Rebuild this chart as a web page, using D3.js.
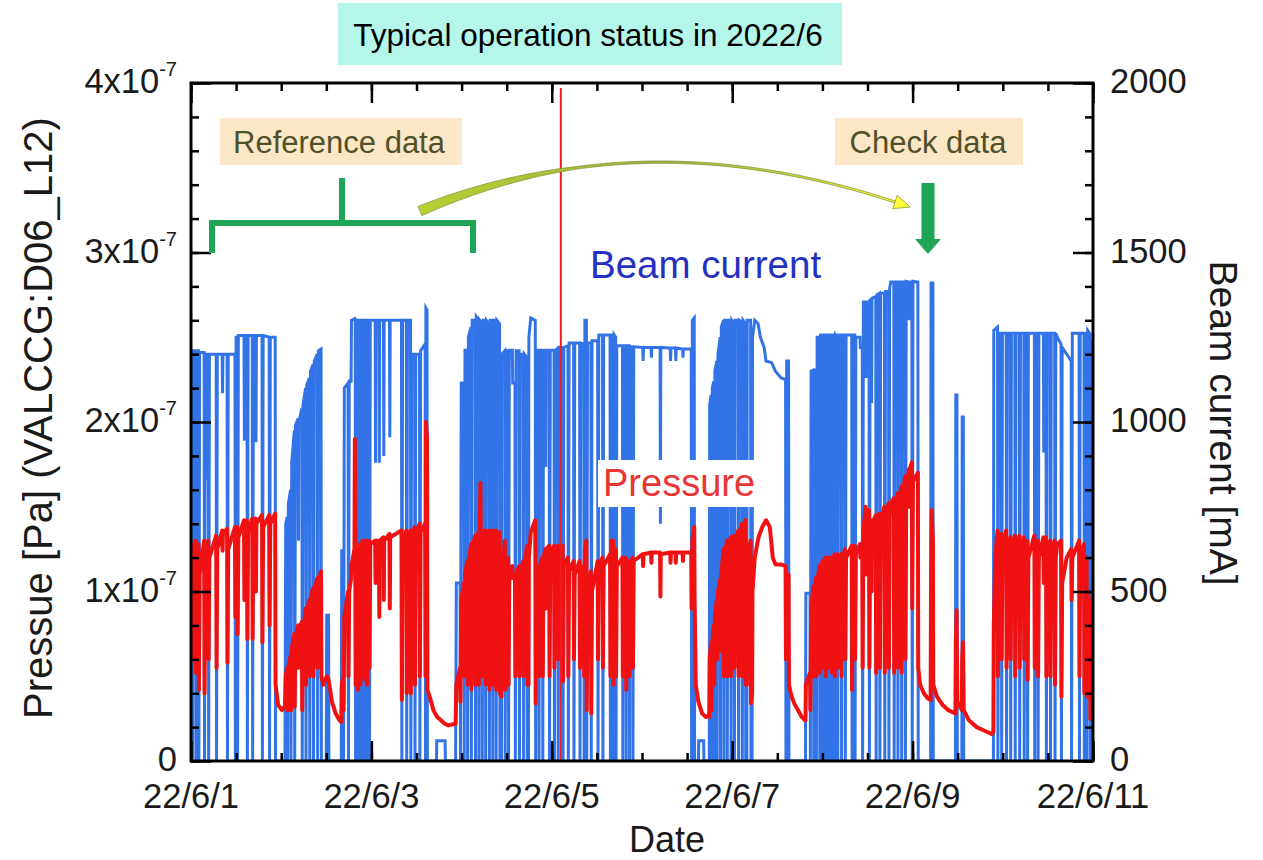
<!DOCTYPE html>
<html><head><meta charset="utf-8">
<script src="https://cdn.jsdelivr.net/npm/d3@7"></script>
<style>body{margin:0;background:#fff}svg{display:block;font-family:"Liberation Sans",Arial,sans-serif}</style>
</head><body><svg id="c" width="1263" height="860"></svg>
<script>
// ---------------- DATA ----------------
const titleText = "Typical operation status in 2022/6";
const xTickDays = [1, 3, 5, 7, 9, 11];
const xTickLabels = ["22/6/1", "22/6/3", "22/6/5", "22/6/7", "22/6/9", "22/6/11"];
const pressureTicks = [0, 1e-7, 2e-7, 3e-7, 4e-7];
const pressureTickMantissa = ["0", "1", "2", "3", "4"];
const currentTicks = [0, 500, 1000, 1500, 2000];
const markerHours = [98.4];            // red vertical marker (hours from 22/6/1 00:00)

// Beam current [mA] vs hours since 2022/6/1 00:00
const beamCurrent = [
[0,1200],[0.3,1200],[0.4,0],[0.5,1210],[1.2,1210],[1.3,0],[1.4,1210],[2.0,1210],[2.1,0],[2.3,1205],[3.5,1205],[3.6,0],[3.8,1200],[4.0,1200],[4.1,830],[4.2,1200],[4.6,1200],[4.7,0],[4.9,1200],[6.7,1200],[6.8,0],[7.0,1200],[8.3,1200],[8.4,1085],[8.5,1200],[9.6,1200],[9.7,0],[9.9,1200],[11.7,1200],[11.8,0],[12.0,1250],[12.3,1250],[12.4,0],[12.6,1255],[14.1,1255],[14.2,945],[14.3,1255],[14.9,1255],[15.0,0],[15.2,1255],[16.3,1255],[16.4,0],[16.6,1255],[17.2,1255],[17.3,940],[17.4,1255],[18.9,1255],[19.0,0],[19.2,1255],[20.8,1250],[20.9,0],[21.1,1250],[22.4,1250],[22.5,0],[24.9,0],
[25.0,0],[25.2,700],[25.6,720],[25.7,0],[25.9,760],[26.5,800],[26.6,0],[26.8,880],[27.5,976],[27.6,0],[27.8,990],[28.5,1010],[28.6,650],[28.7,1000],[29.5,1040],[29.6,0],[29.8,1050],[30.5,1100],[30.6,0],[30.8,1110],[31.5,1130],[31.6,0],[31.8,1150],[32.5,1170],[32.6,0],[32.8,1180],[33.6,1200],[33.7,0],[33.9,1210],[34.6,1215],[34.7,0],[36.0,0],[36.1,430],[36.6,430],[36.7,0],[39.9,0],
[40.0,0],[40.1,620],[40.5,620],[40.6,0],[40.8,1100],[41.8,1115],[41.9,0],[42.1,1120],[42.6,1120],[42.7,1300],[43.6,1305],[43.7,1300],[43.8,0],[44.0,1300],[44.3,1300],[44.4,0],[44.6,1300],[45.0,1300],[45.1,0],[45.3,1300],[45.6,1300],[45.7,0],[45.9,1300],[46.2,1300],[46.3,0],[46.5,1300],[46.8,1300],[46.9,0],[47.1,1300],[47.4,1300],[47.5,0],[47.7,1300],[49.0,1300],[49.1,880],[49.2,1300],[50.0,1300],[50.1,880],[50.2,1300],[51.2,1300],[51.3,900],[51.4,1300],[52.8,1300],[52.9,955],[53.0,1300],[56.0,1300],[56.1,0],[56.3,1300],[57.3,1300],[57.4,0],[57.6,1300],[58.4,1300],[58.5,0],[58.7,1200],[59.5,1200],[59.6,0],[59.8,1200],[60.8,1200],[60.9,0],[61.1,1210],[62.3,1230],[62.4,0],[62.5,1336],[62.8,1330],[62.9,0],[65.3,0],[65.4,60],[67.6,60],[67.7,0],[70.3,0],
[70.4,0],[70.6,525],[71.6,525],[71.7,0],[71.9,1115],[72.6,1115],[72.7,0],[72.9,1212],[73.5,1212],[73.6,0],[73.8,1250],[74.5,1280],[74.6,0],[74.8,1300],[75.6,1300],[75.7,0],[75.9,1310],[76.5,1300],[76.6,0],[76.8,1300],[77.4,1290],[77.5,0],[77.7,1300],[78.3,1300],[78.4,0],[78.6,1300],[79.3,1290],[79.4,0],[79.6,1300],[80.2,1300],[80.3,0],[80.5,1300],[81.1,1300],[81.2,0],[81.4,1300],[82.1,1290],[82.2,0],[82.6,0],[82.7,1200],[83.5,1210],[83.6,0],[83.8,1210],[84.4,1210],[84.5,0],[84.7,1212],[85.5,1212],[85.6,1115],[86.2,1115],[86.3,0],[86.5,1210],[87.3,1210],[87.4,0],[87.6,1200],[88.4,1200],[88.5,0],[88.7,1200],[89.4,1190],[89.5,0],[89.8,0],[89.9,1250],[90.4,1307],[91.6,1300],[91.7,0],[91.9,1212],[92.5,1212],[92.6,0],[92.8,1212],[93.5,1212],[93.6,0],[93.8,1212],[94.3,1212],[94.4,867],[94.5,1212],[95.3,1212],[95.4,0],[95.6,1212],[96.6,1212],[96.7,0],[96.9,1212],[97.6,1218],[97.7,0],[97.9,1220],[98.9,1220],[99.0,0],[99.2,1220],[100.3,1225],[100.4,0],[100.6,1233],[101.8,1233],[101.9,0],[102.1,1233],[103.4,1233],[103.5,0],[103.7,1233],[104.5,1230],[104.6,0],[104.8,1300],[105.2,1300],[105.3,0],[105.5,1233],[106.4,1233],[106.5,0],[106.7,1240],[108.2,1240],[108.3,0],[108.5,1257],[109.5,1257],[109.6,0],[109.8,1257],[111.5,1257],[111.6,0],[111.8,1257],[112.3,1257],[112.4,0],[112.6,1257],[113.0,1250],[113.1,0],[113.3,1225],[114.8,1225],[114.9,0],[115.1,1225],[115.7,1225],[115.8,0],[116.0,1225],[116.6,1225],[116.7,0],[116.9,1222],[117.5,1222],[117.6,0],[117.8,1222],[120.2,1220],[120.3,1180],[120.4,1220],[122.4,1220],[122.5,1190],[122.6,1220],[124.8,1220],[124.9,700],[125.0,1220],[127.5,1218],[127.6,1180],[127.7,1218],[128.9,1218],[129.0,1180],[129.1,1218],[130.8,1215],[130.9,1190],[131.0,1215],[133.1,1215],[133.2,0],[133.4,1300],[133.9,1307],[134.0,0],[135.0,0],[135.1,60],[136.4,60],[136.5,0],
[137.9,0],[138.0,1050],[138.4,1080],[138.5,0],[138.7,1100],[139.1,1120],[139.2,0],[139.4,1150],[139.9,1180],[140.0,0],[140.2,1200],[140.8,1250],[140.9,0],[141.1,1280],[141.7,1300],[141.8,0],[142.0,1300],[142.6,1300],[142.7,0],[142.9,1300],[143.6,1300],[143.7,0],[143.9,1300],[144.5,1290],[144.6,0],[144.8,1300],[145.6,1300],[145.7,0],[145.9,1300],[146.6,1295],[146.7,0],[146.9,1300],[147.5,1290],[147.6,0],[147.9,0],[148.0,1300],[148.9,1300],[149.0,0],[149.3,0],[149.4,1250],[150.0,1300],[150.9,1290],[151.5,1250],[152.5,1220],[153.0,1180],[154.5,1175],[155.5,1150],[157.0,1130],[158.2,1125],[158.3,0],[158.5,1180],[159.0,1180],[159.1,0],[163.5,0],
[163.6,495],[164.7,495],[164.8,0],[165.0,1150],[165.6,1153],[165.7,0],[165.9,1153],[166.3,1153],[166.4,0],[166.6,1250],[167.2,1250],[167.3,0],[167.5,1257],[168.0,1257],[168.1,0],[168.3,1257],[168.8,1257],[168.9,0],[169.1,1257],[169.6,1257],[169.7,0],[169.9,1257],[170.4,1257],[170.5,0],[170.7,1257],[171.2,1257],[171.3,0],[171.5,1257],[172.0,1250],[172.1,0],[172.3,1257],[173.0,1257],[173.1,0],[173.3,1257],[174.0,1257],[174.1,0],[174.3,1257],[175.8,1257],[175.9,0],[176.1,1257],[176.6,1257],[176.7,0],[176.9,1250],[178.0,1250],[178.1,1220],[178.6,1220],[178.7,0],[178.9,1354],[179.5,1354],[179.6,1130],[179.7,1354],[180.4,1354],[180.5,0],[180.7,1360],[181.0,1360],[181.1,1056],[181.2,1365],[182.2,1370],[182.3,0],[182.5,1375],[183.2,1380],[183.3,0],[183.5,1380],[184.5,1380],[184.6,0],[184.8,1385],[185.6,1385],[185.7,0],[185.9,1395],[186.2,1413],[187.0,1413],[187.1,0],[187.3,1413],[188.0,1413],[188.1,0],[188.3,1413],[189.0,1413],[189.1,0],[189.3,1413],[190.0,1413],[190.1,0],[190.3,1415],[191.0,1413],[191.1,1300],[191.2,1413],[191.8,1413],[191.9,0],[192.1,1415],[193.4,1413],[193.5,0],[196.8,0],[196.9,1410],[197.4,1410],[197.5,0],[203.4,0],[203.5,1080],[203.8,1080],[203.9,0],[205.1,0],[205.2,1015],[205.5,1015],[205.6,0],[213.5,0],
[213.6,1270],[214.6,1280],[214.7,0],[214.9,1262],[215.6,1262],[215.7,0],[215.9,1262],[216.9,1262],[217.0,0],[217.2,1262],[218.0,1262],[218.1,0],[218.3,1262],[219.2,1262],[219.3,0],[219.5,1262],[220.4,1262],[220.5,0],[220.7,1262],[221.6,1262],[221.7,0],[221.9,1262],[222.5,1262],[222.6,0],[222.8,1262],[224.4,1262],[224.5,0],[224.7,1262],[225.3,1262],[225.4,0],[225.6,1262],[226.8,1262],[226.9,910],[227.0,1262],[227.5,1262],[227.6,0],[227.8,1262],[228.6,1262],[228.7,0],[228.9,1262],[229.8,1262],[229.9,0],[230.1,1262],[230.5,1250],[231.5,1230],[231.6,0],[231.8,1220],[233.0,1200],[234.2,1180],[234.3,0],[234.5,1262],[236.3,1262],[236.4,0],[236.6,1262],[237.6,1262],[237.7,0],[237.9,1262],[238.3,1262],[238.4,0],[238.6,1270],[239.2,1260],[239.3,0],[239.5,1240],[240.3,850]
];

// Pressure [x1e-7 Pa] vs hours since 2022/6/1 00:00
const pressureE7 = [
[0,1.25],[0.3,1.28],[0.4,0.6],[0.5,1.2],[1.2,1.3],[1.3,0.52],[1.4,1.15],[2.0,1.28],[2.1,0.42],[2.3,1.1],[3.5,1.3],[3.6,0.40],[3.8,1.15],[4.0,1.25],[4.1,0.9],[4.2,1.2],[4.6,1.3],[4.7,0.6],[4.9,1.2],[6.7,1.33],[6.8,0.55],[7.0,1.25],[8.3,1.36],[8.4,1.24],[8.5,1.34],[9.6,1.37],[9.7,0.58],[9.9,1.25],[11.7,1.38],[11.8,0.85],[12.0,1.3],[12.3,1.38],[12.4,0.75],[12.6,1.32],[14.1,1.42],[14.2,0.95],[14.3,1.38],[14.9,1.42],[15.0,0.72],[15.2,1.35],[16.3,1.43],[16.4,0.72],[16.6,1.38],[17.2,1.43],[17.3,1.0],[17.4,1.4],[18.9,1.45],[19.0,0.7],[19.2,1.38],[20.8,1.45],[20.9,0.8],[21.1,1.4],[22.4,1.46],[22.5,0.45],[23.2,0.33],[24.2,0.3],[24.8,0.32],
[25.0,0.32],[25.2,0.5],[25.6,0.55],[25.7,0.3],[25.9,0.55],[26.5,0.62],[26.6,0.3],[26.8,0.66],[27.5,0.75],[27.6,0.32],[27.8,0.72],[28.5,0.8],[28.6,0.55],[28.7,0.78],[29.5,0.82],[29.6,0.3],[29.8,0.75],[30.5,0.9],[30.6,0.45],[30.8,0.88],[31.5,0.95],[31.6,0.5],[31.8,0.95],[32.5,1.02],[32.6,0.5],[32.8,1.0],[33.6,1.08],[33.7,0.55],[33.9,1.05],[34.6,1.12],[34.7,0.5],[35.2,0.45],[36.1,0.5],[36.6,0.48],[37.5,0.35],[38.5,0.28],[39.5,0.24],[40.0,0.23],
[40.1,0.45],[40.5,0.5],[40.6,0.3],[40.8,0.85],[41.8,1.0],[41.9,0.5],[42.1,1.0],[42.6,1.08],[42.7,1.15],[43.5,1.25],[43.6,1.9],[43.7,1.3],[43.8,0.45],[44.0,1.2],[44.3,1.25],[44.4,0.42],[44.6,1.2],[45.0,1.28],[45.1,0.45],[45.3,1.22],[45.6,1.3],[45.7,0.5],[45.9,1.25],[46.2,1.3],[46.3,0.48],[46.5,1.25],[46.8,1.3],[46.9,0.45],[47.1,1.25],[47.4,1.3],[47.5,0.55],[47.7,1.28],[49.0,1.3],[49.1,1.05],[49.2,1.3],[50.0,1.3],[50.1,0.85],[50.2,1.3],[51.2,1.32],[51.3,0.95],[51.4,1.3],[52.8,1.34],[52.9,0.9],[53.0,1.32],[56.0,1.36],[56.1,0.36],[56.3,1.25],[57.3,1.36],[57.4,0.4],[57.6,1.3],[58.4,1.36],[58.5,0.4],[58.7,1.3],[59.5,1.38],[59.6,0.45],[59.8,1.32],[60.8,1.4],[60.9,0.5],[61.1,1.35],[62.3,1.4],[62.4,0.5],[62.5,2.0],[62.8,1.9],[62.9,0.42],[63.5,0.38],[64.5,0.3],[65.5,0.26],[66.5,0.24],[67.5,0.22],[68.5,0.21],[70.3,0.22],
[70.4,0.22],[70.6,0.45],[71.6,0.55],[71.7,0.35],[71.9,0.95],[72.6,1.05],[72.7,0.5],[72.9,1.1],[73.5,1.18],[73.6,0.45],[73.8,1.15],[74.5,1.28],[74.6,0.42],[74.8,1.25],[75.6,1.33],[75.7,0.45],[75.9,1.28],[76.5,1.35],[76.6,0.45],[76.8,1.3],[77.0,1.64],[77.1,1.35],[77.4,1.36],[77.5,0.5],[77.7,1.3],[78.3,1.36],[78.4,0.45],[78.6,1.3],[79.3,1.36],[79.4,0.42],[79.6,1.3],[80.2,1.36],[80.3,0.45],[80.5,1.3],[81.1,1.36],[81.2,0.42],[81.4,1.3],[82.1,1.35],[82.2,0.4],[82.6,0.38],[82.7,1.1],[83.5,1.3],[83.6,0.42],[83.8,1.15],[84.4,1.2],[84.5,0.45],[84.7,1.1],[85.5,1.15],[85.6,1.08],[86.2,1.1],[86.3,0.5],[86.5,1.1],[87.3,1.15],[87.4,0.5],[87.6,1.1],[88.4,1.18],[88.5,0.5],[88.7,1.15],[89.4,1.27],[89.5,0.45],[89.8,0.45],[89.9,1.2],[90.4,1.35],[91.6,1.42],[91.7,0.34],[91.9,1.05],[92.5,1.15],[92.6,0.5],[92.8,1.15],[93.5,1.2],[93.6,0.5],[93.8,1.2],[94.3,1.25],[94.4,0.9],[94.5,1.25],[95.3,1.27],[95.4,0.5],[95.6,1.22],[96.6,1.27],[96.7,0.55],[96.9,1.22],[97.6,1.27],[97.7,0.6],[97.9,1.2],[98.9,1.27],[99.0,0.47],[99.2,1.15],[100.3,1.2],[100.4,0.5],[100.6,1.12],[101.8,1.18],[101.9,0.6],[102.1,1.1],[103.4,1.18],[103.5,0.55],[103.7,1.1],[104.5,1.15],[104.6,0.5],[104.8,1.25],[105.2,1.3],[105.3,0.3],[105.5,1.0],[106.4,1.12],[106.5,0.28],[106.7,1.0],[108.2,1.18],[108.3,0.6],[108.5,1.15],[109.5,1.2],[109.6,0.55],[109.8,1.15],[111.5,1.22],[111.6,0.5],[111.8,1.3],[112.3,1.3],[112.4,0.45],[112.6,1.2],[113.0,1.25],[113.1,0.5],[113.3,1.15],[114.8,1.2],[114.9,0.5],[115.1,1.15],[115.7,1.2],[115.8,0.42],[116.0,1.12],[116.6,1.18],[116.7,0.5],[116.9,1.15],[117.5,1.2],[117.6,0.55],[117.8,1.18],[120.2,1.22],[120.3,1.15],[120.4,1.22],[122.4,1.23],[122.5,1.17],[122.6,1.23],[124.8,1.23],[124.9,0.97],[125.0,1.22],[127.5,1.23],[127.6,1.17],[127.7,1.23],[128.9,1.23],[129.0,1.17],[129.1,1.23],[130.8,1.23],[130.9,1.18],[131.0,1.23],[133.1,1.23],[133.2,0.9],[133.4,1.3],[133.9,1.38],[134.0,0.95],[134.3,0.45],[135.0,0.35],[136.0,0.28],[137.0,0.26],[137.8,0.27],
[137.9,0.26],[138.0,0.6],[138.4,0.7],[138.5,0.3],[138.7,0.7],[139.1,0.8],[139.2,0.45],[139.4,0.85],[139.9,0.95],[140.0,0.6],[140.2,1.0],[140.8,1.07],[140.9,0.65],[141.1,1.1],[141.7,1.25],[141.8,0.5],[142.0,1.2],[142.6,1.3],[142.7,0.5],[142.9,1.25],[143.6,1.32],[143.7,0.5],[143.9,1.28],[144.5,1.33],[144.6,0.55],[144.8,1.3],[145.6,1.36],[145.7,0.5],[145.9,1.3],[146.6,1.4],[146.7,0.5],[146.9,1.35],[147.5,1.42],[147.6,0.45],[147.9,0.45],[148.0,1.2],[148.9,1.3],[149.0,0.34],[149.3,0.4],[149.4,1.0],[150.0,1.2],[151.0,1.32],[152.0,1.38],[153.0,1.42],[154.0,1.38],[154.8,1.2],[155.5,1.16],[157.0,1.16],[158.2,1.15],[158.3,0.6],[158.5,1.05],[159.0,1.1],[159.1,0.45],[159.8,0.38],[160.5,0.34],[161.5,0.3],[162.5,0.26],[163.4,0.24],
[163.5,0.24],[163.6,0.45],[164.7,0.52],[164.8,0.3],[165.0,0.9],[165.6,1.03],[165.7,0.5],[165.9,1.0],[166.3,1.08],[166.4,0.5],[166.6,1.05],[167.2,1.15],[167.3,0.52],[167.5,1.1],[168.0,1.18],[168.1,0.55],[168.3,1.12],[168.8,1.2],[168.9,0.5],[169.1,1.12],[169.6,1.2],[169.7,0.55],[169.9,1.15],[170.4,1.2],[170.5,0.52],[170.7,1.15],[171.2,1.22],[171.3,0.5],[171.5,1.15],[172.0,1.22],[172.1,0.55],[172.3,1.18],[173.0,1.22],[173.1,0.5],[173.3,1.18],[174.0,1.25],[174.1,0.6],[174.3,1.2],[175.8,1.27],[175.9,0.42],[176.1,1.2],[176.6,1.27],[176.7,0.6],[176.9,1.22],[178.0,1.28],[178.1,1.2],[178.6,1.27],[178.7,0.55],[178.9,1.35],[179.5,1.5],[179.6,1.1],[179.7,1.45],[180.4,1.48],[180.5,0.55],[180.7,1.35],[181.0,1.42],[181.1,1.0],[181.2,1.4],[182.2,1.45],[182.3,0.52],[182.5,1.38],[183.2,1.46],[183.3,0.55],[183.5,1.4],[184.5,1.5],[184.6,0.52],[184.8,1.42],[185.6,1.52],[185.7,0.55],[185.9,1.45],[186.2,1.52],[187.0,1.55],[187.1,0.52],[187.3,1.45],[188.0,1.58],[188.1,0.55],[188.3,1.5],[189.0,1.62],[189.1,0.52],[189.3,1.55],[190.0,1.68],[190.1,0.6],[190.3,1.6],[191.0,1.72],[191.1,1.5],[191.2,1.72],[191.8,1.76],[191.9,0.9],[192.1,1.65],[193.4,1.7],[193.5,0.55],[194.0,0.45],[195.0,0.4],[196.0,0.37],[196.8,0.36],[196.9,1.0],[197.1,1.48],[197.4,1.3],[197.5,0.45],[198.5,0.38],[200.0,0.33],[201.5,0.3],[203.4,0.28],[203.5,0.7],[203.7,0.89],[203.9,0.35],[205.1,0.3],[205.2,0.6],[205.4,0.7],[205.6,0.3],[207.0,0.24],[209.0,0.2],[211.0,0.18],[213.0,0.16],
[213.5,0.17],[213.6,0.8],[214.0,1.2],[214.6,1.36],[214.7,0.5],[214.9,1.2],[215.6,1.34],[215.7,0.6],[215.9,1.25],[216.9,1.36],[217.0,0.55],[217.2,1.2],[218.0,1.32],[218.1,0.6],[218.3,1.22],[219.2,1.33],[219.3,0.5],[219.5,1.22],[220.4,1.33],[220.5,0.55],[220.7,1.2],[221.6,1.32],[221.7,0.6],[221.9,1.22],[222.5,1.3],[222.6,0.48],[222.8,1.2],[224.4,1.33],[224.5,0.55],[224.7,1.22],[225.3,1.3],[225.4,0.5],[225.6,1.2],[226.8,1.32],[226.9,1.05],[227.0,1.3],[227.5,1.32],[227.6,0.5],[227.8,1.2],[228.6,1.3],[228.7,0.5],[228.9,1.22],[229.8,1.3],[229.9,0.45],[230.1,1.2],[230.5,1.28],[231.5,1.3],[231.6,0.38],[231.8,1.05],[233.0,1.2],[234.2,1.25],[234.3,0.95],[234.5,1.2],[236.3,1.3],[236.4,0.5],[236.6,1.2],[237.6,1.28],[237.7,0.4],[237.9,1.1],[238.3,1.2],[238.4,0.38],[238.6,1.0],[239.2,0.9],[239.3,0.25],[239.5,0.6],[240.3,0.85]
];

// ---------------- CHART ----------------
const svg = d3.select("#c");
const L = 191, R = 1093, T = 83, B = 761;
const t0 = Date.UTC(2022, 5, 1);
const hourToDate = h => new Date(t0 + h * 3600e3);
const x = d3.scaleUtc().domain([new Date(t0), new Date(Date.UTC(2022, 5, 11))]).range([L, R]);
const yP = d3.scaleLinear().domain([0, 4e-7]).range([B, T]);
const yI = d3.scaleLinear().domain([0, 2000]).range([B, T]);

const BLUE = "#3274e8", RED = "#f01212";

svg.append("rect").attr("width", 1263).attr("height", 860).attr("fill", "#fff");

svg.append("defs").append("clipPath").attr("id", "plotClip")
  .append("rect").attr("x", L).attr("y", T).attr("width", R - L).attr("height", B - T);

// data lines
const lineI = d3.line().x(d => x(hourToDate(d[0]))).y(d => yI(d[1]));
const lineP = d3.line().x(d => x(hourToDate(d[0]))).y(d => yP(d[1] * 1e-7));
const plot = svg.append("g").attr("clip-path", "url(#plotClip)");
plot.append("path").datum(beamCurrent).attr("d", lineI)
  .attr("fill", "none").attr("stroke", BLUE).attr("stroke-width", 3).attr("stroke-linejoin", "miter");
plot.append("path").datum(pressureE7).attr("d", lineP)
  .attr("fill", "none").attr("stroke", RED).attr("stroke-width", 4).attr("stroke-linejoin", "round");

// marker line
plot.selectAll("line.marker").data(markerHours).join("line")
  .attr("x1", d => x(hourToDate(d))).attr("x2", d => x(hourToDate(d)))
  .attr("y1", T + 5).attr("y2", B).attr("stroke", "#ee1c1c").attr("stroke-width", 2);

// axes ticks (inward)
const dayMs = 24 * 3600e3;
const xMinor = d3.range(0, 21).map(i => new Date(t0 + i * dayMs / 2));
const xMajor = xTickDays.map(d => new Date(Date.UTC(2022, 5, d)));
const pMinor = d3.range(0, 21).map(i => i * 0.2e-7);
const iMinor = d3.range(0, 21).map(i => i * 100);

function styleAxis(g) {
  g.select(".domain").remove();
  g.selectAll(".tick line").attr("stroke", "#000").attr("stroke-width", 2.5);
  g.selectAll(".tick text").remove();
}
svg.append("g").attr("transform", `translate(0,${B})`).call(d3.axisBottom(x).tickValues(xMinor).tickSize(-8)).call(styleAxis);
svg.append("g").attr("transform", `translate(0,${B})`).call(d3.axisBottom(x).tickValues(xMajor).tickSize(-20)).call(styleAxis);
svg.append("g").attr("transform", `translate(0,${T})`).call(d3.axisTop(x).tickValues(xMinor).tickSize(-8)).call(styleAxis);
svg.append("g").attr("transform", `translate(0,${T})`).call(d3.axisTop(x).tickValues(xMajor).tickSize(-20)).call(styleAxis);
svg.append("g").attr("transform", `translate(${L},0)`).call(d3.axisLeft(yP).tickValues(pMinor).tickSize(-8)).call(styleAxis);
svg.append("g").attr("transform", `translate(${L},0)`).call(d3.axisLeft(yP).tickValues(pressureTicks).tickSize(-20)).call(styleAxis);
svg.append("g").attr("transform", `translate(${R},0)`).call(d3.axisRight(yI).tickValues(iMinor).tickSize(-8)).call(styleAxis);
svg.append("g").attr("transform", `translate(${R},0)`).call(d3.axisRight(yI).tickValues(currentTicks).tickSize(-20)).call(styleAxis);

// frame
svg.append("rect").attr("x", L).attr("y", T).attr("width", R - L).attr("height", B - T)
  .attr("fill", "none").attr("stroke", "#000").attr("stroke-width", 3);

// tick labels
const lab = svg.append("g").attr("fill", "#1a1a1a").attr("font-size", 34.5);
lab.selectAll("text.xl").data(xMajor).join("text")
  .attr("x", d => x(d)).attr("y", 808).attr("text-anchor", "middle")
  .text((d, i) => xTickLabels[i]);
pressureTicks.forEach((v, i) => {
  const t = lab.append("text").attr("x", 177).attr("y", yP(v) + 10).attr("text-anchor", "end");
  if (v === 0) t.text(pressureTickMantissa[i]);
  else {
    t.append("tspan").text(pressureTickMantissa[i] + "x10");
    t.append("tspan").attr("dy", -17).attr("font-size", 20).text("-7");
  }
});
lab.selectAll("text.yr").data(currentTicks).join("text")
  .attr("x", 1110).attr("y", d => yI(d) + 10).attr("text-anchor", "start").text(d => d);

// axis titles
svg.append("text").attr("transform", "translate(52,418) rotate(-90)").attr("text-anchor", "middle")
  .attr("font-size", 40).attr("fill", "#1a1a1a").text("Pressue [Pa] (VALCCG:D06_L12)");
svg.append("text").attr("transform", "translate(1210,423) rotate(90)").attr("text-anchor", "middle")
  .attr("font-size", 39).attr("fill", "#1a1a1a").text("Beam current [mA]");
svg.append("text").attr("x", 667).attr("y", 852).attr("text-anchor", "middle")
  .attr("font-size", 36).attr("fill", "#1a1a1a").text("Date");

// title box
svg.append("rect").attr("x", 338).attr("y", 3).attr("width", 504).attr("height", 62).attr("fill", "#b4f7ea");
svg.append("text").attr("x", 588).attr("y", 46).attr("text-anchor", "middle")
  .attr("font-size", 31.5).attr("fill", "#000").text(titleText);

// series labels
svg.append("text").attr("x", 590).attr("y", 278).attr("font-size", 38.5).attr("fill", "#2430c0").text("Beam current");
svg.append("rect").attr("x", 598).attr("y", 460).attr("width", 162).attr("height", 47).attr("fill", "#fff");
svg.append("text").attr("x", 603).attr("y", 496).attr("font-size", 38).attr("fill", "#e83535").text("Pressure");

// annotation boxes
svg.append("rect").attr("x", 220).attr("y", 118).attr("width", 242).attr("height", 47).attr("fill", "#fce7c6");
svg.append("text").attr("x", 339).attr("y", 153).attr("text-anchor", "middle").attr("font-size", 31).attr("fill", "#50502a").text("Reference data");
svg.append("rect").attr("x", 835).attr("y", 118).attr("width", 188).attr("height", 47).attr("fill", "#fce7c6");
svg.append("text").attr("x", 928).attr("y", 153).attr("text-anchor", "middle").attr("font-size", 31).attr("fill", "#50502a").text("Check data");

// green bracket
const GREEN = "#1fa556";
svg.append("path").attr("d", "M212,253 L212,223 L473,223 L473,253 M342,223 L342,178")
  .attr("fill", "none").attr("stroke", GREEN).attr("stroke-width", 6);

// green down arrow
svg.append("path").attr("d", "M921.5,183 L934.5,183 L934.5,239 L941,239 L928,254 L915,239 L921.5,239 Z").attr("fill", GREEN);

// curved tapered arrow
(function () {
  const P0 = [420, 211], P1 = [640, 118], P2 = [895, 202];
  const bez = t => [(1 - t) * (1 - t) * P0[0] + 2 * (1 - t) * t * P1[0] + t * t * P2[0],
                    (1 - t) * (1 - t) * P0[1] + 2 * (1 - t) * t * P1[1] + t * t * P2[1]];
  const der = t => [2 * (1 - t) * (P1[0] - P0[0]) + 2 * t * (P2[0] - P1[0]),
                    2 * (1 - t) * (P1[1] - P0[1]) + 2 * t * (P2[1] - P1[1])];
  const wid = t => t < 0.35 ? 10 - 7.5 * (t / 0.35) : 2.5 - 0.5 * (t - 0.35) / 0.65;
  const left = [], right = [];
  for (let i = 0; i <= 60; i++) {
    const t = i / 60, p = bez(t), d = der(t), n = Math.hypot(d[0], d[1]);
    const nx = -d[1] / n, ny = d[0] / n, w = wid(t) / 2;
    left.push([p[0] + nx * w, p[1] + ny * w]);
    right.push([p[0] - nx * w, p[1] - ny * w]);
  }
  const poly = left.concat(right.reverse());
  const grad = svg.select("defs").append("linearGradient").attr("id", "cg")
    .attr("gradientUnits", "userSpaceOnUse").attr("x1", 420).attr("y1", 0).attr("x2", 910).attr("y2", 0);
  grad.append("stop").attr("offset", 0).attr("stop-color", "#b8cf32");
  grad.append("stop").attr("offset", 0.5).attr("stop-color", "#9fb244");
  grad.append("stop").attr("offset", 0.85).attr("stop-color", "#d8e03a");
  grad.append("stop").attr("offset", 1).attr("stop-color", "#ffff30");
  svg.append("path").attr("d", "M" + poly.map(p => p.join(",")).join("L") + "Z")
    .attr("fill", "url(#cg)").attr("stroke", "#7c8f34").attr("stroke-width", 0.7);
  const d = der(1), n = Math.hypot(d[0], d[1]), ux = d[0] / n, uy = d[1] / n;
  const tip = [P2[0] + ux * 16, P2[1] + uy * 16];
  const b1 = [P2[0] - uy * 7, P2[1] + ux * 7], b2 = [P2[0] + uy * 7, P2[1] - ux * 7];
  svg.append("path").attr("d", `M${b1}L${tip}L${b2}Z`).attr("fill", "#ffff3a").attr("stroke", "#8a9a30").attr("stroke-width", 0.8);
})();
</script>
</body></html>
